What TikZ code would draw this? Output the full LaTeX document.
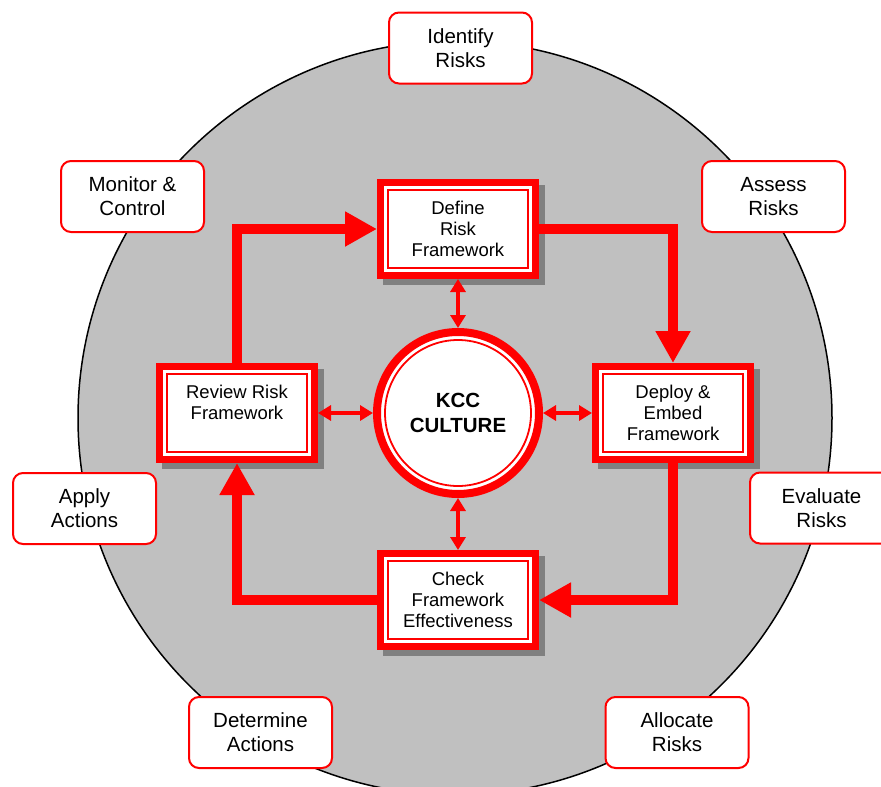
\documentclass[tikz,border=0pt]{standalone}
\usepackage{fontspec}
\setmainfont{Liberation Sans}
\usetikzlibrary{arrows.meta}
\definecolor{circgray}{HTML}{C0C0C0}
\definecolor{shadowgray}{HTML}{808080}
\definecolor{kred}{HTML}{FF0000}
\tikzset{
  obox/.style={draw=kred, line width=2pt, rounded corners=10pt, fill=white,
    minimum width=143pt, minimum height=71pt, align=center, inner sep=0pt,
    text depth=-2pt, font=\fontsize{20.5}{24}\selectfont},
  ibox/.style={draw=kred, line width=7pt, outer sep=3.5pt, fill=white,
    minimum width=155pt, minimum height=93pt, align=center, inner sep=0pt,
    font=\fontsize{18.5}{21}\selectfont},
  kccnode/.style={circle, draw=kred, line width=8pt, outer sep=4pt, fill=white,
    minimum size=162pt, align=center, inner sep=0pt,
    font=\fontsize{20.5}{24.5}\selectfont\bfseries},
  cyc/.style={draw=kred, line width=10pt, -{Triangle[length=32pt,width=33pt]}},
  dbl/.style={draw=kred, line width=4pt,
    {Triangle[length=13pt,width=15pt]}-{Triangle[length=13pt,width=15pt]}}
}
\newcommand{\innerbox}[4]{%
  \fill[shadowgray] (#2-75,#3-44) rectangle (#2+87,#3+56);
  \node[ibox] (#1) at (#2,#3) {#4};
  \draw[kred, line width=1.8pt] ([shift={(11,11)}]#1.north west) rectangle ([shift={(-11,-11)}]#1.south east);
}
\begin{document}
\begin{tikzpicture}[x=1pt,y=-1pt]
\useasboundingbox (0,0) rectangle (881,787);
\clip (0,0) rectangle (881,787);
% big circle
\draw[black, line width=1.5pt, fill=circgray] (455,418) circle (377);
% outer steps
\node[obox] (identify) at (460.5,48) {Identify\\Risks};
\node[obox] (assess) at (773.5,196.5) {Assess\\Risks};
\node[obox] (evaluate) at (821.5,508) {Evaluate\\Risks};
\node[obox] (allocate) at (677,732.5) {Allocate\\Risks};
\node[obox] (determine) at (260.5,732.5) {Determine\\Actions};
\node[obox] (apply) at (84.5,508.5) {Apply\\Actions};
\node[obox] (monitor) at (132.5,196.5) {Monitor \&\\Control};
% inner framework boxes
\innerbox{define}{458}{229}{Define\\Risk\\Framework}
\innerbox{deploy}{673}{413}{Deploy \&\\Embed\\Framework}
\innerbox{check}{458}{600}{Check\\Framework\\Effectiveness}
\innerbox{review}{237}{413}{Review Risk\\Framework\\\mbox{}}
% centre
\node[kccnode] (kcc) at (458,413) {KCC\\CULTURE};
\draw[kred, line width=1.8pt] (kcc.center) circle (73);
% cycle
\draw[cyc] (review.north) |- (define.west);
\draw[cyc] (define.east) -| (deploy.north);
\draw[cyc] (deploy.south) |- (check.east);
\draw[cyc] (check.west) -| (review.south);
% links to culture
\draw[dbl] (define.south) -- (kcc.north);
\draw[dbl] (check.north) -- (kcc.south);
\draw[dbl] (review.east) -- (kcc.west);
\draw[dbl] (deploy.west) -- (kcc.east);
\end{tikzpicture}
\end{document}
